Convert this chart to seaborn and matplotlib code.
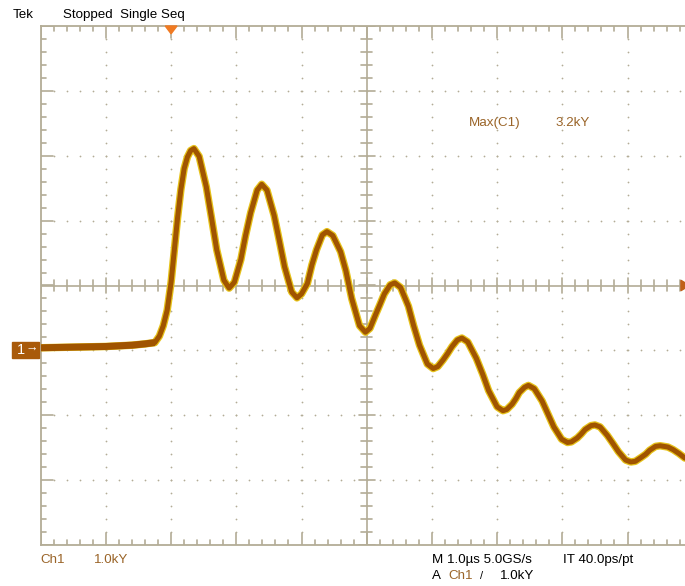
import numpy as np
import matplotlib
matplotlib.use("Agg")
import matplotlib.pyplot as plt
import seaborn as sns
from matplotlib.patches import Rectangle, Polygon

# Waveform: time in us (0 = trigger), CH1 in kV
time_us = [-2.00, -1.50, -1.00, -0.60, -0.40, -0.25, -0.18, -0.12, -0.06, 0.00,
           0.05, 0.10, 0.15, 0.20, 0.25, 0.30, 0.35,
           0.43, 0.54, 0.62, 0.70, 0.81, 0.89,
           0.97, 1.07, 1.14, 1.22, 1.32, 1.39,
           1.47, 1.58, 1.66, 1.74, 1.85, 1.93,
           2.00, 2.09, 2.16, 2.23, 2.32, 2.39,
           2.48, 2.60, 2.68, 2.77, 2.89, 2.98,
           3.05, 3.14, 3.20, 3.27, 3.36, 3.43,
           3.52, 3.64, 3.72, 3.81, 3.93, 4.02,
           4.09, 4.17, 4.24, 4.31, 4.39, 4.46,
           4.55, 4.68, 4.78, 4.87, 5.00, 5.09,
           5.15, 5.23, 5.29, 5.34, 5.42, 5.48,
           5.57, 5.69, 5.78, 5.87, 5.99, 6.08,
           6.14, 6.23, 6.29, 6.35, 6.44, 6.50,
           6.58, 6.69, 6.78, 6.86, 6.97, 7.05,
           7.12, 7.21, 7.28, 7.34, 7.43, 7.50,
           7.62, 7.70, 7.79, 7.88]
ch1_kv = [0.04, 0.05, 0.06, 0.08, 0.10, 0.12, 0.22, 0.38, 0.62, 1.05,
          1.55, 2.05, 2.48, 2.80, 2.98, 3.08, 3.11,
          2.99, 2.52, 2.04, 1.55, 1.08, 0.96,
          1.05, 1.40, 1.76, 2.12, 2.47, 2.56,
          2.47, 2.08, 1.69, 1.29, 0.90, 0.81,
          0.87, 1.03, 1.32, 1.55, 1.78, 1.83,
          1.77, 1.52, 1.23, 0.80, 0.38, 0.28,
          0.34, 0.56, 0.70, 0.87, 1.01, 1.04,
          0.97, 0.68, 0.38, 0.08, -0.21, -0.28,
          -0.25, -0.15, -0.05, 0.06, 0.16, 0.19,
          0.13, -0.12, -0.37, -0.62, -0.87, -0.93,
          -0.91, -0.83, -0.74, -0.65, -0.57, -0.54,
          -0.59, -0.78, -0.98, -1.18, -1.37, -1.42,
          -1.41, -1.35, -1.29, -1.22, -1.16, -1.15,
          -1.18, -1.31, -1.44, -1.56, -1.69, -1.72,
          -1.71, -1.65, -1.60, -1.54, -1.48, -1.47,
          -1.49, -1.53, -1.59, -1.66]

# screen settings
x_range = (-2, 8)     # 1.0 us/div, 10 divisions
y_range = (-3, 5)     # 1.0 kV/div, ground one division below centre
trigger_level_kv = 1.0

GRAT = "#b3ac96"
BROWN_TXT = "#9a6428"
TRACE = "#a05400"
TRACE_EDGE = "#e6c21a"

W, H = 685, 586
fig = plt.figure(figsize=(W / 100, H / 100), dpi=100)
sns.set_style("white")
plt.rcParams['font.family'] = ['Liberation Sans', 'DejaVu Sans']

# the graticule runs a bit past the right edge of the capture
ax = fig.add_axes([40.7 / W, 1 - 545 / H, 652 / W, 519 / H])
ax.set_xlim(*x_range)
ax.set_ylim(*y_range)
ax.set_xticks([])
ax.set_yticks([])
for side in ["left", "top", "bottom", "right"]:
    ax.spines[side].set_color(GRAT)
    ax.spines[side].set_linewidth(1.3)

xc = (x_range[0] + x_range[1]) / 2
yc = (y_range[0] + y_range[1]) / 2
px_x = 65.2   # pixels per division
px_y = 64.9

# dotted division lines
for xd in np.arange(x_range[0] + 1, x_range[1]):
    if xd == xc:
        continue
    ys = np.arange(y_range[0] + 0.2, y_range[1] - 0.1, 0.2)
    ax.scatter(np.full_like(ys, xd), ys, s=1.6, color=GRAT, linewidths=0, zorder=1)
for yd in np.arange(y_range[0] + 1, y_range[1]):
    if yd == yc:
        continue
    xs = np.arange(x_range[0] + 0.2, x_range[1], 0.2)
    ax.scatter(xs, np.full_like(xs, yd), s=1.6, color=GRAT, linewidths=0, zorder=1)

# centre crosshair with minor ticks
ax.axhline(yc, color=GRAT, lw=1.2, zorder=1)
ax.axvline(xc, color=GRAT, lw=1.2, zorder=1)
for xt in np.arange(x_range[0], x_range[1] + 0.01, 0.2):
    major = abs(xt - round(xt)) < 1e-6
    h = (8 if major else 5.5) / px_y
    ax.plot([xt, xt], [yc - h, yc + h], color=GRAT, lw=1.2, zorder=1)
    # ticks on top / bottom frame
    h2 = (12 if major else 5.5) / px_y
    ax.plot([xt, xt], [y_range[1], y_range[1] - h2], color=GRAT, lw=1.2, zorder=1)
    ax.plot([xt, xt], [y_range[0], y_range[0] + h2], color=GRAT, lw=1.2, zorder=1)
for yt in np.arange(y_range[0], y_range[1] + 0.01, 0.2):
    major = abs(yt - round(yt)) < 1e-6
    w = (8 if major else 5.5) / px_x
    ax.plot([xc - w, xc + w], [yt, yt], color=GRAT, lw=1.2, zorder=1)
    w2 = (12 if major else 5.5) / px_x
    ax.plot([x_range[0], x_range[0] + w2], [yt, yt], color=GRAT, lw=1.2, zorder=1)

# trace: yellow speckle edge under a brown core
sns.lineplot(x=time_us, y=ch1_kv, sort=False, estimator=None, color=TRACE_EDGE,
             lw=5.4, ax=ax, zorder=3, solid_joinstyle="round", solid_capstyle="round")
sns.lineplot(x=time_us, y=ch1_kv, sort=False, estimator=None, color=TRACE,
             lw=3.6, ax=ax, zorder=4, solid_joinstyle="round", solid_capstyle="round")
# noisier, wider baseline before the pulse
sns.lineplot(x=time_us[:6], y=ch1_kv[:6], sort=False, estimator=None, color=TRACE,
             lw=5.0, ax=ax, zorder=4, solid_capstyle="butt")

# trigger position marker (top) and trigger level marker (right)
ax.add_patch(Polygon([[-0.09, 5.0], [0.09, 5.0], [0.0, 4.88]], closed=True,
                     color="#f07a22", clip_on=False, zorder=6))
ax.add_patch(Polygon([[7.95, trigger_level_kv], [7.82, trigger_level_kv + 0.08],
                      [7.82, trigger_level_kv - 0.08]], closed=True,
                     color="#c0601a", clip_on=False, zorder=6))


def ftxt(x, y, s, color="black", size=9.6, **kw):
    fig.text(x / W, 1 - y / H, s, color=color, fontsize=size, va="center", ha="left",
             zorder=10, **kw)


# ground marker for channel 1
fig.patches.append(Rectangle((12 / W, 1 - 358 / H), 27 / W, 16 / H, transform=fig.transFigure,
                             color="#a95a0a", zorder=5))
ftxt(17, 350, "1", color="white", size=10.5)
ftxt(26, 348.5, "\u2192", color="white", size=9)

ftxt(13, 15, "Tek")
ftxt(63, 15, "Stopped  Single Seq")
ftxt(469, 123, "Max(C1)", color=BROWN_TXT)
ftxt(555, 123, "3.2kY", color=BROWN_TXT)
ftxt(40, 560, "Ch1", color=BROWN_TXT)
ftxt(94, 560, "1.0kY", color=BROWN_TXT)
ftxt(432, 560, "M 1.0\u00b5s 5.0GS/s")
ftxt(563, 560, "IT 40.0ps/pt")
ftxt(432, 576, "A")
ftxt(448, 576, "Ch1", color=BROWN_TXT)
ftxt(480, 576, "/", size=8)
ftxt(500, 576, "1.0kY")

fig.savefig("out.png", dpi=100, facecolor="white")
